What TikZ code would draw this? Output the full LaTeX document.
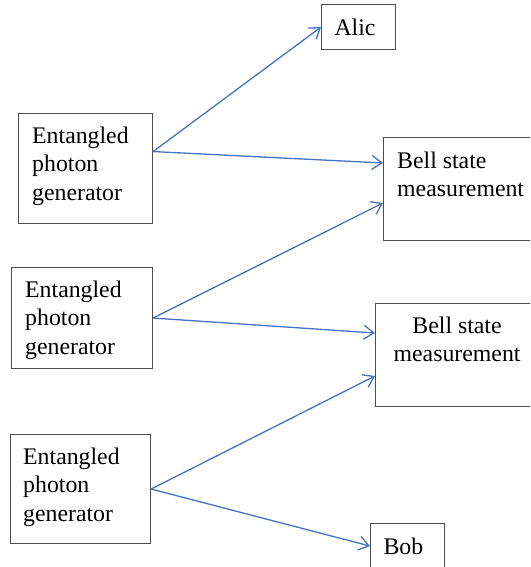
\documentclass[tikz,border=0pt]{standalone}
\usepackage{fontspec}
\setmainfont{Liberation Serif}
\usetikzlibrary{arrows.meta, positioning}
\definecolor{linkblue}{RGB}{68,114,196}

\begin{document}
\begin{tikzpicture}[
  x=1pt,
  y=-1pt,
  box/.style={draw=black!70, line width=1.1pt, anchor=north west, inner sep=0pt},
  txt/.style={anchor=north west, align=left, inner sep=0pt, font=\fontsize{23.8}{28.5}\selectfont},
  tag/.style={box, align=left, text width=48pt, inner xsep=13pt, minimum width=74pt, minimum height=45pt, font=\fontsize{23.8}{28.5}\selectfont},
  link/.style={draw=linkblue, line width=1.3pt, -{Straight Barb[length=10pt, width=14pt]}}
  ]
    % frame
    \useasboundingbox (0,0) rectangle (530,567);
    \clip (0,0) rectangle (530,567);

    % generators
    \node[box, minimum width=134pt, minimum height=110pt] (gen1) at (18,113) {};
    \node[txt] (gen1 text) at ([shift={(14pt,-13.7pt)}]gen1.north west) {Entangled\\photon\\generator};

    \node[box, minimum width=141pt, minimum height=101pt] (gen2) at (11,267) {};
    \node[txt] (gen2 text) at ([shift={(14pt,-13.7pt)}]gen2.north west) {Entangled\\photon\\generator};

    \node[box, minimum width=140pt, minimum height=109pt] (gen3) at (10,434) {};
    \node[txt] (gen3 text) at ([shift={(13pt,-13.7pt)}]gen3.north west) {Entangled\\photon\\generator};

    % measurements
    \node[box, minimum width=165pt, minimum height=103pt] (bsm1) at (383,137) {};
    \node[txt] (bsm1 text) at ([shift={(14pt,-14.7pt)}]bsm1.north west) {Bell state\\measurement};

    \node[box, minimum width=163pt, minimum height=103pt] (bsm2) at (375,303) {};
    \node[txt, anchor=north, align=center] (bsm2 text) at ([yshift=-13.7pt]bsm2.north) {Bell state\\measurement};

    % ends
    \node[tag] (alic) at (321,4) {Alic};
    \node[tag] (bob) at (370,523) {Bob};

    % links
    \draw[link] ([yshift=17pt]gen1.east) -- (alic.west);
    \draw[link] ([yshift=17pt]gen1.east) -- ([yshift=-26pt]bsm1.north west);
    \draw[link] (gen2.east) -- ([yshift=-66pt]bsm1.north west);
    \draw[link] (gen2.east) -- ([yshift=-30pt]bsm2.north west);
    \draw[link] (gen3.east) -- ([yshift=-73pt]bsm2.north west);
    \draw[link] (gen3.east) -- (bob.west);

\end{tikzpicture}
\end{document}
